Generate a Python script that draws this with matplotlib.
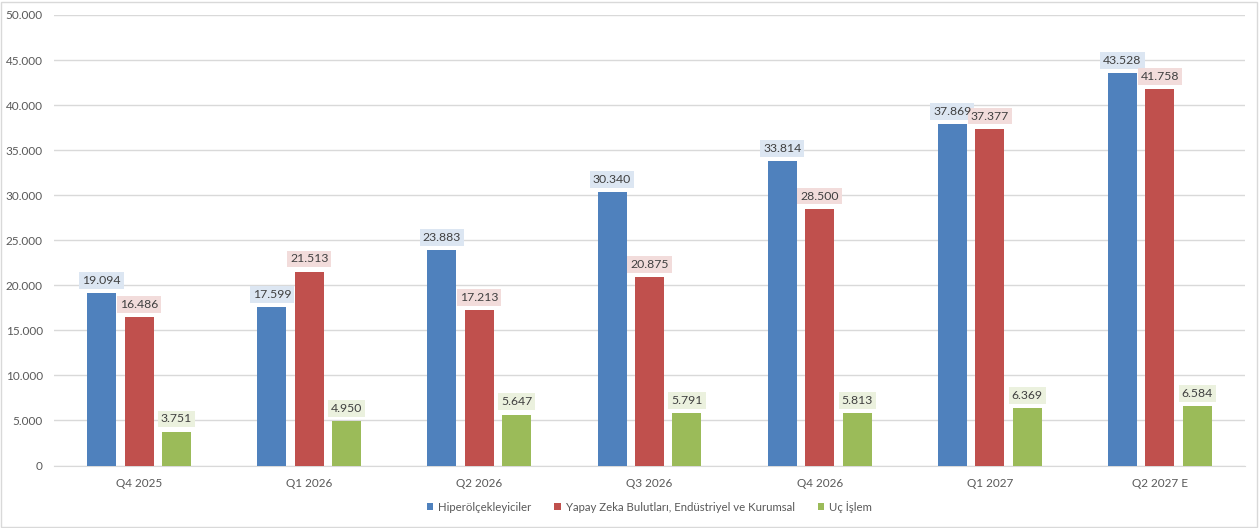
import numpy as np
import matplotlib.pyplot as plt
from matplotlib.patches import Rectangle

plt.rcParams['font.family'] = ['Lato', 'DejaVu Sans']

categories = ["Q4 2025", "Q1 2026", "Q2 2026", "Q3 2026", "Q4 2026", "Q1 2027", "Q2 2027 E"]
hyper = [19094, 17599, 23883, 30340, 33814, 37869, 43528]
ai_cloud = [16486, 21513, 17213, 20875, 28500, 37377, 41758]
edge = [3751, 4950, 5647, 5791, 5813, 6369, 6584]

series = [
    ("Hiperölçekleyiciler", hyper, "#4F81BD", "#DCE6F2"),
    ("Yapay Zeka Bulutları, Endüstriyel ve Kurumsal", ai_cloud, "#C0504D", "#F2DCDB"),
    ("Uç İşlem", edge, "#9BBB59", "#EBF1DE"),
]

def fmt(v):
    return f"{v:,.0f}".replace(",", ".")

fig = plt.figure(figsize=(12.6, 5.28), dpi=100)
ax = fig.add_axes([54 / 1260, 1 - 465.5 / 528, 1191 / 1260, 450.5 / 528])
fig.patches.append(Rectangle((0.001, 0.002), 0.997, 0.995, transform=fig.transFigure,
                             fill=False, edgecolor="#D9D9D9", linewidth=1))

x = np.arange(len(categories))
width = 0.17
step = 0.22
for i, (name, vals, col, light) in enumerate(series):
    pos = x + (i - 1) * step
    ax.bar(pos, vals, width, color=col, label=name, zorder=3)
    for p, v in zip(pos, vals):
        # box first, text on top so neighbouring boxes never hide digits
        ax.text(p, v + 800, fmt(v), ha="center", va="bottom", fontsize=8.8, color="none",
                bbox=dict(boxstyle="square,pad=0.24", facecolor=light, edgecolor="none"), zorder=4)
        ax.text(p, v + 800, fmt(v), ha="center", va="bottom", fontsize=8.8, color="#404040",
                zorder=5)

ax.set_xlim(-0.5, len(categories) - 0.5)
ax.set_ylim(0, 50000)
ax.set_yticks(np.arange(0, 50001, 5000))
ax.set_yticklabels([fmt(v) for v in np.arange(0, 50001, 5000)])
ax.set_xticks(x)
ax.set_xticklabels(categories)
ax.tick_params(axis="both", length=0, labelsize=8.5, labelcolor="#595959")
ax.tick_params(axis="x", pad=9)
ax.tick_params(axis="y", pad=8)
ax.grid(axis="y", color="#D9D9D9", linewidth=1, zorder=0)
for s in ["top", "right", "left"]:
    ax.spines[s].set_visible(False)
ax.spines["bottom"].set_color("#D9D9D9")

ax.legend(loc="center", bbox_to_anchor=(0.5, -0.092), ncol=3, frameon=False,
          fontsize=8.2, handlelength=0.55, handleheight=0.55, columnspacing=2.0,
          labelcolor="#595959", handletextpad=0.45)

fig.savefig("out.png", dpi=100)
